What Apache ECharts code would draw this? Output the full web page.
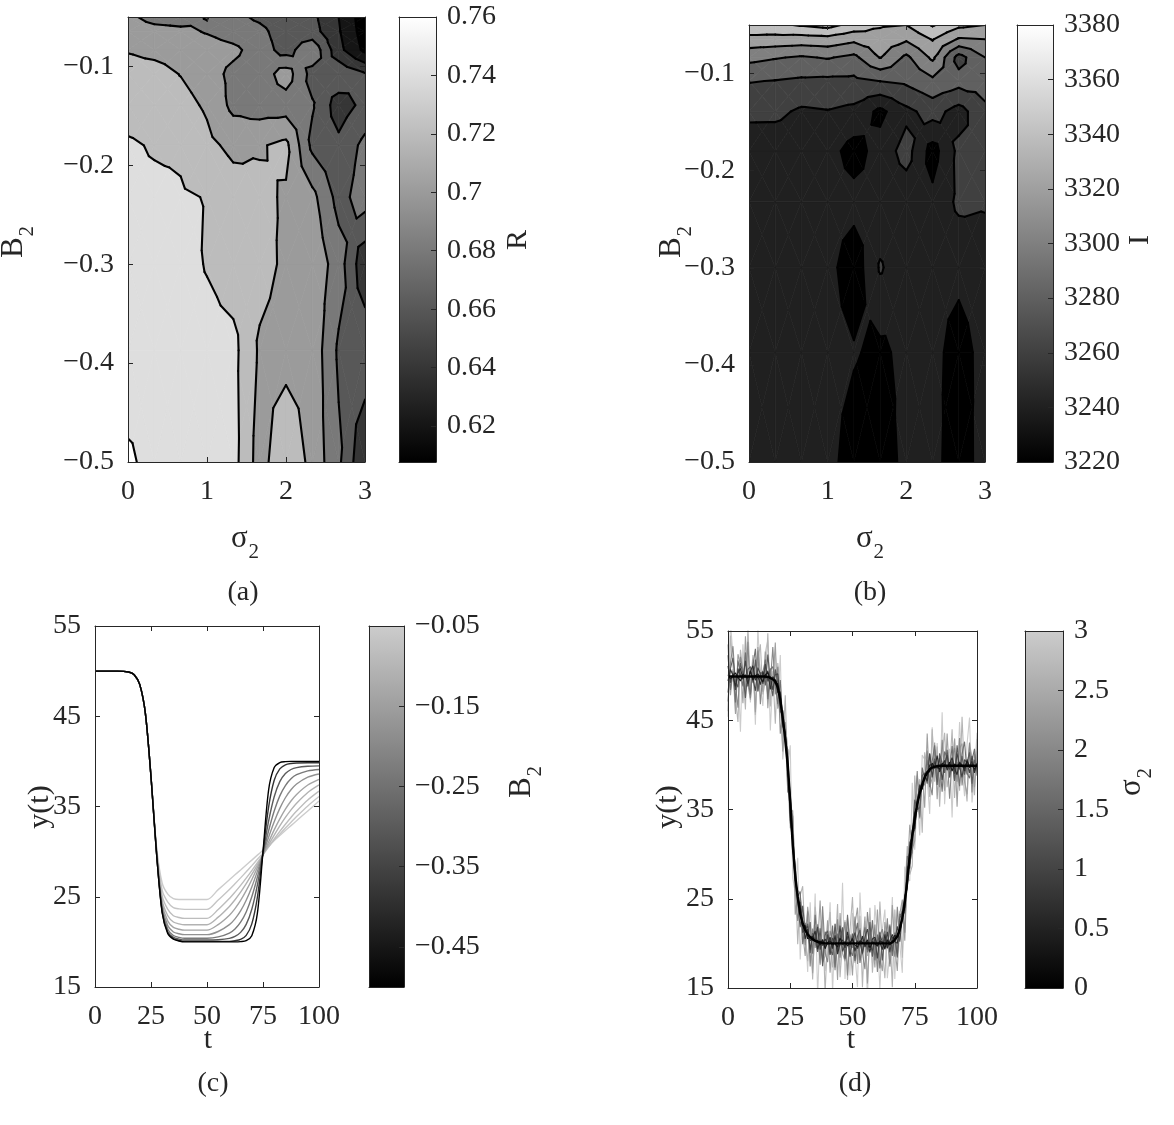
<!DOCTYPE html>
<html>
<head>
<meta charset="utf-8">
<title>Contours and trajectories</title>
<script src="https://cdn.jsdelivr.net/npm/echarts@6.0.0/dist/echarts.min.js"></script>
<style>
html,body{margin:0;padding:0;background:#ffffff;}
#chart{width:1174px;height:1125px;}
</style>
</head>
<body>
<div id="chart"></div>
<script>
// ================= DATA =================
// grid of the two contour maps
const sigmaGrid = [0, 0.3333, 0.6667, 1, 1.3333, 1.6667, 2, 2.3333, 2.6667, 3];
const b2Grid = [-0.5, -0.3871, -0.2997, -0.2321, -0.1797, -0.1391, -0.1077, -0.0834, -0.0646, -0.05];

// (a) R values, rows follow b2Grid (bottom to top), columns follow sigmaGrid
const rValues = [
  [0.764, 0.752, 0.750, 0.749, 0.7473, 0.7109, 0.7377, 0.7136, 0.6838, 0.641],
  [0.745, 0.748, 0.748, 0.747, 0.7457, 0.7171, 0.712, 0.7135, 0.6767, 0.675],
  [0.750, 0.748, 0.747, 0.7388, 0.730, 0.727, 0.7164, 0.715, 0.690, 0.645],
  [0.745, 0.745, 0.742, 0.7393, 0.730, 0.725, 0.7175, 0.7059, 0.6727, 0.690],
  [0.743, 0.738, 0.737, 0.725, 0.715, 0.718, 0.725, 0.675, 0.665, 0.6855],
  [0.730, 0.728, 0.727, 0.7171, 0.6946, 0.690, 0.690, 0.682, 0.6496, 0.666],
  [0.728, 0.727, 0.7194, 0.710, 0.6941, 0.688, 0.710, 0.6725, 0.676, 0.662],
  [0.7187, 0.715, 0.712, 0.710, 0.705, 0.690, 0.672, 0.695, 0.6464, 0.615],
  [0.712, 0.708, 0.705, 0.6984, 0.690, 0.685, 0.670, 0.668, 0.642, 0.610],
  [0.705, 0.692, 0.690, 0.7005, 0.685, 0.6764, 0.668, 0.665, 0.640, 0.608]
];
const rLevels = [0.62, 0.64, 0.66, 0.68, 0.70, 0.72, 0.74, 0.76];
const rRange = [0.6077, 0.76];
const rTicks = [0.62, 0.64, 0.66, 0.68, 0.7, 0.72, 0.74, 0.76];

// (b) I values
const iValues = [
  [3245, 3246, 3247, 3247, 3230, 3225, 3248, 3247, 3228, 3250],
  [3246, 3247, 3246, 3247, 3242, 3235, 3247, 3246, 3232, 3247],
  [3247, 3246, 3247, 3247, 3228, 3262, 3247, 3246, 3245, 3250],
  [3246, 3247, 3246, 3248, 3247, 3246, 3247, 3245, 3264, 3262],
  [3248, 3248, 3248, 3248, 3232, 3248, 3268, 3232, 3265, 3262],
  [3264.6, 3264.4, 3257, 3259, 3255, 3235, 3255, 3267.8, 3252, 3275],
  [3281, 3279.3, 3276.7, 3275.6, 3275.5, 3280.3, 3284, 3295.3, 3288, 3290],
  [3305.7, 3301.4, 3297.8, 3301.5, 3295, 3321, 3295.6, 3324, 3272, 3300],
  [3333.6, 3332.5, 3331, 3332.8, 3325, 3332.7, 3323, 3341.4, 3318, 3320],
  [3355, 3356, 3362, 3367, 3353, 3342, 3340, 3362, 3345, 3340]
];
const iLevels = [3220, 3240, 3260, 3280, 3300, 3320, 3340, 3360, 3380];
const iRange = [3220, 3380];
const iTicks = [3220, 3240, 3260, 3280, 3300, 3320, 3340, 3360, 3380];

const sigmaTicks = [0, 1, 2, 3];
const b2Ticks = [-0.5, -0.4, -0.3, -0.2, -0.1];

// (c) trajectories for the ten B2 values
const cB2 = [-0.5, -0.3871, -0.2997, -0.2321, -0.1797, -0.1391, -0.1077, -0.0834, -0.0646, -0.05];
const tC = [0, 10, 15, 17.5, 20, 22.5, 25, 27.5, 30, 32.5, 35, 37.5, 40, 45, 50, 55, 60, 62.5, 65, 67.5, 70, 72.5, 75, 77.5, 80, 82.5, 85, 87.5, 90, 95, 100];
const cCurve0 = [50, 50, 49.9, 49.6, 48.5, 45.3, 38.3, 29.7, 23.2, 20.9, 20.3, 20.1, 20.0, 20.0, 20.0, 20.0, 20.0, 20.0, 20.03, 20.13, 20.69, 23.18, 30.0, 36.82, 39.31, 39.87, 39.97, 40.0, 40.0, 40.0, 40.0];
const cCurve1 = [50, 50, 49.9, 49.6, 48.5, 45.3, 38.3, 29.7, 23.3, 21.0, 20.35, 20.15, 20.05, 20.05, 20.05, 20.05, 20.05, 20.13, 20.28, 20.73, 21.99, 24.96, 29.95, 34.94, 37.91, 39.17, 39.62, 39.77, 39.82, 39.85, 39.85];
const cCurve2 = [50, 50, 49.9, 49.6, 48.5, 45.3, 38.3, 29.8, 23.4, 21.1, 20.5, 20.3, 20.2, 20.2, 20.2, 20.24, 20.39, 20.6, 21.05, 21.94, 23.62, 26.32, 29.85, 33.38, 36.08, 37.76, 38.65, 39.1, 39.31, 39.46, 39.5];
const cCurve3 = [50, 50, 49.9, 49.6, 48.5, 45.3, 38.3, 29.8, 23.6, 21.4, 20.7, 20.5, 20.4, 20.4, 20.4, 20.55, 20.98, 21.43, 22.18, 23.32, 25.0, 27.19, 29.75, 32.31, 34.5, 36.18, 37.32, 38.07, 38.52, 38.95, 39.1];
const cCurve4 = [50, 50, 49.9, 49.6, 48.5, 45.3, 38.3, 29.9, 23.9, 21.8, 21.1, 20.9, 20.8, 20.8, 20.8, 21.15, 21.91, 22.55, 23.43, 24.61, 26.09, 27.81, 29.7, 31.59, 33.31, 34.79, 35.97, 36.85, 37.49, 38.25, 38.6];
const cCurve5 = [50, 50, 49.9, 49.6, 48.5, 45.3, 38.3, 30.0, 24.2, 22.3, 21.6, 21.4, 21.3, 21.3, 21.3, 21.92, 22.96, 23.69, 24.59, 25.67, 26.89, 28.24, 29.65, 31.06, 32.41, 33.63, 34.71, 35.61, 36.34, 37.38, 38.0];
const cCurve6 = [50, 50, 49.9, 49.6, 48.5, 45.3, 38.3, 30.1, 24.6, 22.9, 22.2, 22.0, 21.9, 21.9, 21.9, 22.74, 23.93, 24.67, 25.51, 26.45, 27.47, 28.54, 29.65, 30.76, 31.83, 32.85, 33.79, 34.63, 35.37, 36.56, 37.4];
const cCurve7 = [50, 50, 49.9, 49.6, 48.5, 45.3, 38.3, 30.2, 25.1, 23.6, 22.9, 22.7, 22.6, 22.6, 22.6, 23.58, 24.81, 25.51, 26.26, 27.06, 27.9, 28.77, 29.65, 30.53, 31.4, 32.24, 33.04, 33.79, 34.49, 35.72, 36.7];
const cCurve8 = [50, 50, 49.9, 49.6, 48.5, 45.3, 38.3, 30.3, 25.7, 24.4, 23.8, 23.65, 23.6, 23.6, 23.6, 24.64, 25.81, 26.44, 27.09, 27.76, 28.45, 29.15, 29.85, 30.55, 31.25, 31.94, 32.61, 33.26, 33.89, 35.06, 36.1];
const cCurve9 = [50, 50, 49.9, 49.6, 48.5, 45.3, 38.3, 30.5, 26.5, 25.3, 24.8, 24.7, 24.7, 24.7, 24.7, 25.79, 26.88, 27.43, 27.97, 28.52, 29.06, 29.61, 30.15, 30.7, 31.24, 31.79, 32.34, 32.88, 33.42, 34.51, 35.6];
const cCurves = [cCurve0, cCurve1, cCurve2, cCurve3, cCurve4, cCurve5, cCurve6, cCurve7, cCurve8, cCurve9];
const tTicks = [0, 25, 50, 75, 100];
const yTicks = [15, 25, 35, 45, 55];
const cbB2Ticks = [-0.45, -0.35, -0.25, -0.15, -0.05];
const cbB2Range = [-0.5, -0.05];

// (d) noisy trajectories for the ten sigma2 values
const dSigma = [0, 0.3333, 0.6667, 1, 1.3333, 1.6667, 2, 2.3333, 2.6667, 3];
const tD = [0,1,2,3,4,5,6,7,8,9,10,11,12,13,14,15,16,17,18,19,20,21,22,23,24,25,26,27,28,29,30,31,32,33,34,35,36,37,38,39,40,41,42,43,44,45,46,47,48,49,50,51,52,53,54,55,56,57,58,59,60,61,62,63,64,65,66,67,68,69,70,71,72,73,74,75,76,77,78,79,80,81,82,83,84,85,86,87,88,89,90,91,92,93,94,95,96,97,98,99,100];
const dMean = [
  49.9,49.9,49.9,49.9,49.9,49.9,49.9,49.9,49.9,49.9,
  49.9,49.9,49.9,49.9,49.9,49.9,49.85,49.75,49.6,49.4,
  48.7,47.3,45.2,42.8,40.0,35.8,31.0,27.6,25.2,23.3,
  22.2,21.5,21.0,20.7,20.45,20.3,20.15,20.1,20.05,20.0,
  20,20,20,20,20,20,20,20,20,20,
  20,20,20,20,20,20,20,20,20,20,
  20,20,20,20,20,20,20.1,20.4,20.8,21.6,
  22.8,24.6,27.0,29.8,32.1,34.0,35.6,36.8,37.8,38.6,
  39.1,39.5,39.7,39.8,39.85,39.9,39.9,39.9,39.9,39.9,
  39.9,39.9,39.9,39.9,39.9,39.9,39.9,39.9,39.9,39.9,
  39.9];
const dNoise1 = [0.2,-0.3,0.1,0.4,-0.1,-0.5,0.3,0.0,-0.2,0.6,-0.4,0.1,0.3,-0.2,-0.6,0.2,0.5,-0.1,0.0,-0.3,0.4,-0.2,0.1,0.7,-0.3,-0.1,0.2,-0.4,0.3,0.1,-0.2,0.5,-0.5,0.0,0.3,-0.1,0.2,-0.3,0.4,-0.6,0.1,0.3,-0.2,0.0,-0.4,0.6,-0.1,0.2,-0.3,0.1,0.5,-0.2,-0.4,0.3,0.1,-0.1,0.4,-0.5,0.2,0.0,-0.3,0.3,0.1,-0.6,0.4,-0.2,0.2,0.5,-0.1,-0.3,0.0,0.4,-0.4,0.2,-0.1,0.6,-0.2,0.1,-0.5,0.3,0.2,-0.3,0.5,-0.1,0.0,-0.4,0.3,0.1,-0.2,0.4,-0.6,0.2,-0.1,0.3,0.0,-0.3,0.5,-0.2,0.1,-0.4,0.2];
const dNoise2 = [-0.5,0.8,0.1,-1.1,0.4,0.9,-0.3,0.2,-0.8,0.6,1.2,-0.4,0.0,-0.9,0.5,-0.2,0.7,-1.3,0.3,0.1,-0.6,0.9,-0.1,0.4,-0.7,1.0,0.2,-0.5,-0.2,0.8,0.3,-1.0,0.6,-0.4,0.1,1.1,-0.8,0.2,-0.3,0.5,-0.1,0.7,-0.6,0.9,-1.2,0.0,0.4,-0.5,1.3,-0.2,0.6,-0.9,0.3,-0.1,0.8,-0.4,0.2,-1.0,0.5,0.7,-0.3,0.1,-0.7,1.0,-0.5,0.3,0.9,-0.2,-0.8,0.4,0.0,-0.6,1.1,-0.3,0.6,-1.1,0.2,0.8,-0.4,0.1,-0.9,0.5,0.3,-0.2,1.2,-0.7,0.0,0.6,-0.5,0.2,0.9,-0.3,-1.0,0.4,0.1,-0.6,0.7,-0.1,0.5,-0.8,0.3];
const dNoise3 = [1.2,-0.7,0.4,-1.5,0.9,0.1,-0.3,1.8,-1.1,0.6,-0.2,-1.6,1.0,0.3,-0.8,1.4,-0.5,0.2,-1.2,0.7,1.5,-0.4,-0.9,0.8,0.0,-1.9,1.1,0.5,-0.6,1.3,-1.0,0.2,0.9,-1.4,0.4,-0.1,1.7,-0.8,0.3,-0.5,1.0,-1.3,0.6,0.1,-0.7,2.0,-0.9,-0.2,0.8,-1.5,0.4,1.2,-0.6,0.0,-1.1,0.7,1.6,-0.3,-0.8,0.5,-1.7,0.9,0.2,-0.4,1.3,-1.0,0.6,-0.1,1.1,-1.4,0.3,0.8,-0.9,1.5,-0.2,-1.2,0.4,1.0,-0.5,0.1,-0.7,1.8,-1.1,0.6,-0.3,0.9,-1.6,0.2,1.2,-0.4,0.5,-0.9,1.4,-0.1,-1.3,0.7,0.3,-0.8,1.1,-0.6,0.2];
const dNoise4 = [-1.8,0.9,2.1,-0.5,-1.2,1.5,0.3,-2.4,0.8,1.1,-0.7,1.9,-1.6,0.2,0.6,-1.0,2.5,-0.4,-1.9,1.3,0.5,-1.4,0.9,-0.2,1.7,-2.2,0.4,1.0,-0.8,-1.5,2.0,-0.3,1.2,-1.8,0.7,0.1,-1.1,1.6,-2.6,0.9,1.4,-0.6,-1.3,2.2,-0.9,0.5,1.8,-1.7,0.2,-0.4,1.1,-2.0,0.8,1.5,-1.2,0.3,-0.7,2.4,-1.5,0.6,-0.1,1.3,-1.9,0.7,-0.5,1.9,-1.0,0.4,-2.3,1.2,0.8,-0.9,1.6,-1.4,0.0,2.1,-0.6,-1.6,1.0,0.5,-1.2,1.7,-0.3,0.9,-2.1,1.4,0.2,-0.8,1.8,-1.3,0.6,-1.7,2.3,-0.4,1.1,-1.0,0.3,1.5,-2.0,0.7,-0.5];
const dNoise5 = [2.4,-1.5,0.6,-2.9,1.8,0.3,-1.1,2.7,-0.4,-2.0,1.2,3.1,-1.7,0.5,-0.8,1.9,-2.5,0.9,1.4,-0.2,-1.9,2.2,-0.6,1.0,-3.0,0.7,1.6,-1.3,0.1,2.5,-2.3,0.8,-0.5,1.7,-1.6,2.9,-0.9,0.4,-2.1,1.3,0.6,-1.2,2.0,-2.7,1.1,-0.3,1.5,-1.8,3.2,-0.7,-1.4,0.9,2.3,-2.2,0.2,1.8,-1.0,-0.4,2.6,-1.9,1.0,-2.8,0.5,1.4,-0.6,2.1,-1.5,0.8,-2.4,1.7,0.3,-1.1,2.8,-0.9,-1.7,1.2,0.6,-2.6,1.9,-0.2,1.5,-2.0,0.7,2.4,-1.3,0.1,-2.9,1.6,0.9,-0.5,2.2,-1.6,0.4,-2.3,1.3,2.7,-0.8,-1.4,0.6,1.9,-1.1];
const dNoise6 = [-2.8,1.6,3.4,-0.9,-3.5,2.2,0.7,-1.8,3.9,-2.4,1.1,-0.4,2.9,-3.1,0.5,1.8,-2.2,-0.6,3.6,-1.5,2.3,-3.8,0.9,1.5,-2.0,0.2,3.2,-1.3,-2.7,1.9,0.4,-1.7,2.6,-3.3,1.2,-0.8,2.0,-2.5,4.1,-1.0,-2.1,1.4,0.3,-3.0,2.7,-1.6,0.8,2.4,-3.6,1.0,-0.5,3.0,-2.3,1.7,-1.1,-2.9,3.5,0.6,-1.4,2.1,-3.2,0.9,1.6,-0.7,2.8,-2.6,0.1,-1.9,3.3,-1.2,1.5,-3.4,2.2,0.4,-2.0,1.1,3.7,-2.8,0.7,-0.9,2.5,-1.5,-3.1,1.9,0.2,-2.4,2.9,-0.6,1.3,-3.7,0.8,2.0,-1.8,3.1,-2.2,0.5,-1.0,2.6,-3.0,1.4,-0.3];
const dNoise7 = [3.6,-2.1,0.8,-4.2,2.5,1.3,-3.0,4.5,-0.9,-2.6,1.9,-4.0,3.3,0.4,-1.7,2.8,-3.5,1.1,-0.6,4.3,-2.4,0.2,-3.7,2.0,1.5,-1.2,3.9,-4.4,0.7,2.3,-1.0,-2.9,3.1,0.9,-3.8,1.6,-0.3,4.7,-2.2,-1.4,2.6,-3.3,0.5,1.8,-4.1,3.4,-1.1,-2.0,2.9,0.1,-3.6,2.2,4.0,-1.9,-0.7,3.0,-4.5,1.2,0.6,-2.7,3.8,-1.5,-3.1,2.4,0.3,-2.3,4.2,-0.8,-3.9,1.7,2.1,-4.3,0.9,3.5,-1.6,-2.5,3.2,-0.4,1.4,-3.4,4.4,-2.0,-1.2,2.7,-3.7,1.0,0.5,-2.8,3.6,-1.3,-0.2,3.0,-4.6,1.9,2.5,-1.8,-3.2,2.1,0.8,-2.4,1.6];
const dNoise8 = [-3.9,4.6,1.2,-2.5,-5.1,3.0,0.6,-3.7,5.4,-1.1,2.4,-4.3,1.8,3.6,-2.0,-0.5,4.9,-3.2,0.9,-4.8,2.7,1.4,-3.5,5.0,-1.6,-2.9,3.3,0.3,-5.3,2.1,4.2,-1.3,-3.0,1.7,-4.5,3.8,0.8,-2.3,2.9,-5.6,1.0,3.5,-2.7,-1.0,4.4,-3.8,0.2,2.6,-4.1,1.5,5.2,-2.2,-0.8,3.1,-4.9,1.9,-1.4,4.0,-3.3,0.4,-2.6,4.7,-0.6,-3.9,2.3,1.1,-5.0,3.4,-1.8,2.0,-4.4,0.7,3.9,-2.1,-3.4,4.8,-0.9,1.6,-5.4,2.8,0.5,-3.1,4.3,-1.7,2.2,-4.6,1.3,3.7,-2.4,-0.7,4.1,-3.6,1.1,-2.8,5.5,-1.2,-4.0,2.5,0.9,-3.3,3.0];
const dNoise9 = [-4.5,6.1,2.3,-3.8,0.9,-6.2,3.6,-1.4,4.8,-2.9,1.7,-5.4,5.6,-0.7,-3.3,2.8,4.1,-5.9,0.4,3.2,-2.1,5.0,-4.6,1.2,-0.3,6.4,-3.7,-1.9,4.4,-5.1,2.0,0.6,-4.2,3.9,-2.6,5.3,-6.0,1.5,2.7,-3.1,-1.0,4.6,-5.5,2.2,0.1,-2.4,6.8,-4.0,1.8,-3.6,3.4,-1.2,-4.9,5.7,-0.5,2.5,-6.3,3.0,-2.2,4.3,0.7,-5.2,1.6,3.8,-3.9,-0.9,5.1,-4.4,2.9,-1.7,-6.1,4.0,0.3,-2.8,5.9,-3.5,1.1,-4.7,3.3,2.0,-0.6,-5.0,4.5,-1.5,2.6,-3.2,6.0,-4.3,0.8,1.9,-5.8,3.1,-2.0,4.9,-0.2,-3.4,2.4,5.4,-4.1,-1.1,3.7];
const dNoises = [null, dNoise1, dNoise2, dNoise3, dNoise4, dNoise5, dNoise6, dNoise7, dNoise8, dNoise9];
const cbSigmaTicks = [0, 0.5, 1, 1.5, 2, 2.5, 3];
const cbSigmaRange = [0, 3];

// ================= STYLE =================
const FONT = '"Liberation Serif","Times New Roman",Times,serif';
const INK = '#262626';
const TICK_FS = 28;
const fmt = v => String(Math.round(v * 10000) / 10000).replace('-', '\u2212');
const grayCss = f => { const g = Math.round(Math.max(0, Math.min(1, f)) * 255); return 'rgb(' + g + ',' + g + ',' + g + ')'; };

// ================= CONTOUR HELPERS =================
function clipPoly(poly, level, keepAbove) {
  const out = [];
  for (let a = 0; a < poly.length; a++) {
    const P = poly[a], Q = poly[(a + 1) % poly.length];
    const pin = keepAbove ? P[2] >= level : P[2] < level;
    const qin = keepAbove ? Q[2] >= level : Q[2] < level;
    if (pin) out.push(P);
    if (pin !== qin) {
      const t = (level - P[2]) / (Q[2] - P[2]);
      out.push([P[0] + t * (Q[0] - P[0]), P[1] + t * (Q[1] - P[1]), level]);
    }
  }
  return out;
}
function cellTriangles(api, xs, ys, Z) {
  const k = api.value(0), i = api.value(1);
  const pt = (kk, ii) => { const p = api.coord([xs[kk], ys[ii]]); return [p[0], p[1], Z[ii][kk]]; };
  const A = pt(k, i), B = pt(k + 1, i), C = pt(k + 1, i + 1), D = pt(k, i + 1);
  const M = [(A[0] + C[0]) / 2, (A[1] + C[1]) / 2, (A[2] + B[2] + C[2] + D[2]) / 4];
  return [[A, B, M], [B, C, M], [C, D, M], [D, A, M]];
}
function fillRenderer(xs, ys, Z, levels, range) {
  const bounds = [-Infinity].concat(levels, [Infinity]);
  return function (params, api) {
    const children = [];
    for (const tri of cellTriangles(api, xs, ys, Z)) {
      for (let b = 0; b < bounds.length - 1; b++) {
        let poly = tri;
        if (bounds[b] !== -Infinity) poly = clipPoly(poly, bounds[b], true);
        if (poly.length < 3) continue;
        if (bounds[b + 1] !== Infinity) poly = clipPoly(poly, bounds[b + 1], false);
        if (poly.length < 3) continue;
        const lo = bounds[b] === -Infinity ? range[0] : bounds[b];
        const col = grayCss((lo - range[0]) / (range[1] - range[0]));
        children.push({ type: 'polygon', shape: { points: poly.map(p => [p[0], p[1]]) },
          style: { fill: col, stroke: col, lineWidth: 0.7 } });
      }
    }
    return { type: 'group', children };
  };
}
function lineRenderer(xs, ys, Z, levels) {
  return function (params, api) {
    const children = [];
    for (const tri of cellTriangles(api, xs, ys, Z)) {
      for (const L of levels) {
        const pts = [];
        for (let e = 0; e < 3; e++) {
          const P = tri[e], Q = tri[(e + 1) % 3];
          if ((P[2] >= L) !== (Q[2] >= L)) {
            const t = (L - P[2]) / (Q[2] - P[2]);
            pts.push([P[0] + t * (Q[0] - P[0]), P[1] + t * (Q[1] - P[1])]);
          }
        }
        if (pts.length === 2) children.push({ type: 'line',
          shape: { x1: pts[0][0], y1: pts[0][1], x2: pts[1][0], y2: pts[1][1] },
          style: { stroke: '#000', lineWidth: 2.1, lineCap: 'round' } });
      }
    }
    return { type: 'group', children };
  };
}
function cellsOf(xs, ys) {
  const cells = [];
  for (let i = 0; i < ys.length - 1; i++)
    for (let k = 0; k < xs.length - 1; k++)
      cells.push([k, i, (xs[k] + xs[k + 1]) / 2, (ys[i] + ys[i + 1]) / 2]);
  return cells;
}
function colorbarRenderer(topColor) {
  return function (params, api) {
    const p0 = api.coord([0, api.value(2)]), p1 = api.coord([1, api.value(3)]);
    return { type: 'rect', shape: { x: p0[0], y: p1[1], width: p1[0] - p0[0], height: p0[1] - p1[1] },
      style: { fill: { type: 'linear', x: 0, y: 1, x2: 0, y2: 0, global: false,
        colorStops: [{ offset: 0, color: '#000000' }, { offset: 1, color: topColor }] } } };
  };
}

// ================= AXES =================
const grids = [
  { left: 128, top: 17, width: 237, height: 445 },   // 0 (a)
  { left: 399, top: 17, width: 37, height: 445 },    // 1 (a) colorbar
  { left: 749, top: 25, width: 236, height: 437 },   // 2 (b)
  { left: 1017, top: 25, width: 36, height: 437 },   // 3 (b) colorbar
  { left: 95, top: 626, width: 224, height: 361 },   // 4 (c)
  { left: 369, top: 626, width: 35, height: 361 },   // 5 (c) colorbar
  { left: 728, top: 631, width: 249, height: 357 },  // 6 (d)
  { left: 1025, top: 631, width: 38, height: 357 }   // 7 (d) colorbar
].map(g => Object.assign({ show: false, containLabel: false, outerBoundsMode: 'none' }, g));

const xAxes = [], yAxes = [];
function baseAxis(gi, min, max, position) {
  return { type: 'value', gridIndex: gi, min, max, position, z: 10, silent: true,
    axisLine: { show: true, onZero: false, lineStyle: { color: INK, width: 1 } },
    splitLine: { show: false }, axisTick: { show: false }, axisLabel: { show: false } };
}
function ticks(ax, values, withLabels, margin) {
  ax.axisTick = { show: true, inside: true, length: 5, lineStyle: { color: INK, width: 1 }, customValues: values };
  if (withLabels) ax.axisLabel = { show: true, margin, customValues: values, formatter: fmt,
    fontFamily: FONT, fontSize: TICK_FS, color: INK };
  return ax;
}
function plotAxes(gi, xr, yr, xt, yt) {
  xAxes.push(ticks(baseAxis(gi, xr[0], xr[1], 'bottom'), xt, true, 16));
  xAxes.push(ticks(baseAxis(gi, xr[0], xr[1], 'top'), xt, false));
  yAxes.push(ticks(baseAxis(gi, yr[0], yr[1], 'left'), yt, true, 14));
  yAxes.push(ticks(baseAxis(gi, yr[0], yr[1], 'right'), yt, false));
}
function barAxes(gi, range, t) {
  xAxes.push(baseAxis(gi, 0, 1, 'bottom'));
  xAxes.push(baseAxis(gi, 0, 1, 'top'));
  yAxes.push(baseAxis(gi, range[0], range[1], 'left'));
  yAxes.push(ticks(baseAxis(gi, range[0], range[1], 'right'), t, true, 11));
}
const b2Range = [b2Grid[0], b2Grid[b2Grid.length - 1]];
const sigRange = [sigmaGrid[0], sigmaGrid[sigmaGrid.length - 1]];
plotAxes(0, sigRange, b2Range, sigmaTicks, b2Ticks);
barAxes(1, rRange, rTicks);
plotAxes(2, sigRange, b2Range, sigmaTicks, b2Ticks);
barAxes(3, iRange, iTicks);
plotAxes(4, [0, 100], [15, 55], tTicks, yTicks);
barAxes(5, cbB2Range, cbB2Ticks);
plotAxes(6, [0, 100], [15, 55], tTicks, yTicks);
barAxes(7, cbSigmaRange, cbSigmaTicks);

// ================= SERIES =================
const series = [];
function contourSeries(axisIdx, Z, levels, range) {
  const cells = cellsOf(sigmaGrid, b2Grid);
  series.push({ type: 'custom', coordinateSystem: 'cartesian2d', xAxisIndex: axisIdx, yAxisIndex: axisIdx,
    renderItem: fillRenderer(sigmaGrid, b2Grid, Z, levels, range), data: cells, encode: { x: 2, y: 3 },
    clip: true, silent: true, z: 2 });
  series.push({ type: 'custom', coordinateSystem: 'cartesian2d', xAxisIndex: axisIdx, yAxisIndex: axisIdx,
    renderItem: lineRenderer(sigmaGrid, b2Grid, Z, levels), data: cells, encode: { x: 2, y: 3 },
    clip: true, silent: true, z: 3 });
}
function barSeries(axisIdx, range, topColor) {
  series.push({ type: 'custom', coordinateSystem: 'cartesian2d', xAxisIndex: axisIdx, yAxisIndex: axisIdx,
    renderItem: colorbarRenderer(topColor), data: [[0.5, (range[0] + range[1]) / 2, range[0], range[1]]],
    encode: { x: 0, y: 1 }, silent: true, z: 2 });
}
contourSeries(0, rValues, rLevels, rRange);
barSeries(2, rRange, '#ffffff');
contourSeries(4, iValues, iLevels, iRange);
barSeries(6, iRange, '#ffffff');

// (c) curves, lightest first so the darkest lies on top
for (let j = cCurves.length - 1; j >= 0; j--) {
  const f = (cB2[j] - cbB2Range[0]) / (cbB2Range[1] - cbB2Range[0]) * 0.8;
  series.push({ type: 'line', xAxisIndex: 8, yAxisIndex: 8, showSymbol: false, symbol: 'none',
    smooth: 0.3, data: tC.map((t, n) => [t, cCurves[j][n]]), silent: true, z: 2,
    lineStyle: { color: grayCss(f), width: 1.4 } });
}
barSeries(10, cbB2Range, grayCss(0.8));

// (d) noisy curves (lightest first, darker on top), then the noise-free one
for (let k = dSigma.length - 1; k >= 1; k--) {
  const f = (dSigma[k] - cbSigmaRange[0]) / (cbSigmaRange[1] - cbSigmaRange[0]) * 0.8;
  series.push({ type: 'line', xAxisIndex: 12, yAxisIndex: 12, showSymbol: false, symbol: 'none',
    data: tD.map((t, n) => [t, dMean[n] + dNoises[k][n]]), silent: true, z: 2,
    lineStyle: { color: grayCss(f), width: 1.1 } });
}
series.push({ type: 'line', xAxisIndex: 12, yAxisIndex: 12, showSymbol: false, symbol: 'none',
  data: tD.map((t, n) => [t, dMean[n]]), silent: true, z: 3, lineStyle: { color: '#000', width: 2.4 } });
barSeries(14, cbSigmaRange, grayCss(0.8));

// ================= TEXT =================
function txt(x, y, text, size, rot) {
  return { type: 'text', x, y, rotation: rot || 0, silent: true, z: 20,
    style: { text, fontFamily: FONT, fontSize: size, fill: INK, align: 'center', verticalAlign: 'middle',
      textAlign: 'center', textVerticalAlign: 'middle' } };
}
function subTxt(x, y, main, sub, rot) {
  return { type: 'text', x, y, rotation: rot || 0, silent: true, z: 20,
    style: { text: '{m|' + main + '}{s|' + sub + '}', align: 'center', verticalAlign: 'middle',
      textAlign: 'center', textVerticalAlign: 'middle',
      rich: { m: { fontFamily: FONT, fontSize: 31, fill: INK, lineHeight: 31, verticalAlign: 'bottom', padding: [0, 1, 8, 0] },
              s: { fontFamily: FONT, fontSize: 21, fill: INK, lineHeight: 21, verticalAlign: 'bottom' } } } };
}
const R90 = Math.PI / 2;
const graphic = [
  subTxt(245, 547, 'σ', '2'), subTxt(22, 242, 'B', '2', R90), txt(518, 240, 'R', 30, R90), txt(243, 593, '(a)', 28),
  subTxt(870, 547, 'σ', '2'), subTxt(680, 242, 'B', '2', R90), txt(1140, 240, 'I', 30, R90), txt(870, 593, '(b)', 28),
  txt(208, 1040, 't', 30), txt(40, 807, 'y(t)', 30, R90), subTxt(530, 782, 'B', '2', R90), txt(213, 1084, '(c)', 28),
  txt(851, 1040, 't', 30), txt(668, 807, 'y(t)', 30, R90), subTxt(1140, 782, 'σ', '2', R90), txt(855, 1084, '(d)', 28)
];

const chart = echarts.init(document.getElementById('chart'), null, { renderer: 'canvas' });
chart.setOption({
  animation: false,
  backgroundColor: '#ffffff',
  grid: grids,
  xAxis: xAxes,
  yAxis: yAxes,
  series,
  graphic
});
</script>
</body>
</html>
